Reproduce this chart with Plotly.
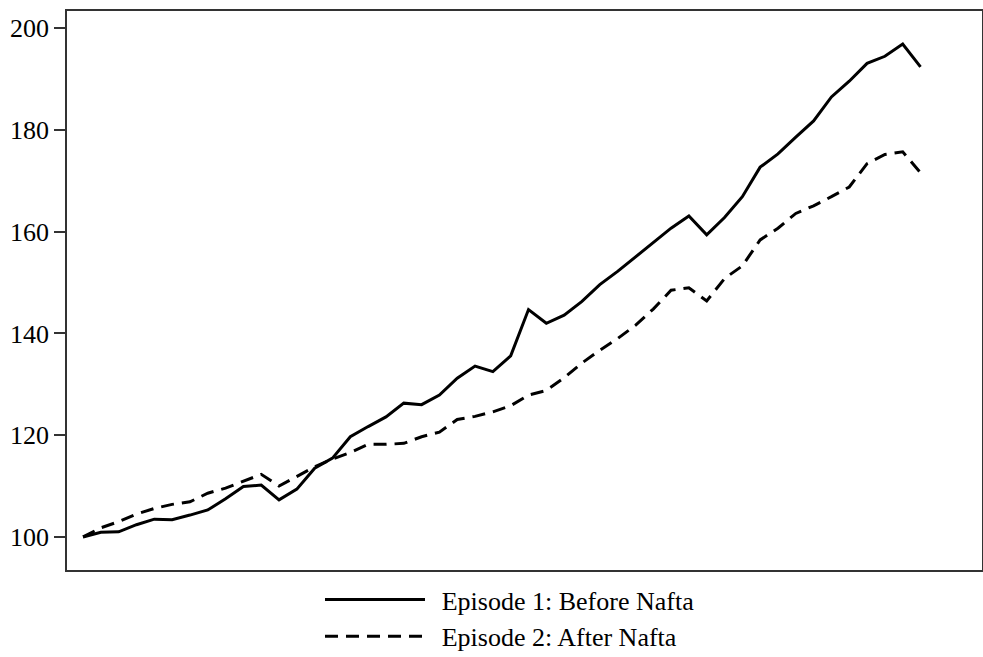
import plotly.graph_objects as go

quarters = list(range(48))
before_nafta = [100.0, 100.9, 101.0, 102.4, 103.5, 103.4, 104.3, 105.3, 107.5, 109.9,
                110.2, 107.3, 109.4, 113.5, 115.5, 119.7, 121.7, 123.6, 126.3, 126.0,
                127.9, 131.2, 133.6, 132.5, 135.6, 144.7, 142.0, 143.6, 146.3, 149.6,
                152.2, 155.0, 157.8, 160.7, 163.1, 159.4, 162.8, 166.9, 172.7, 175.3,
                178.6, 181.8, 186.5, 189.6, 193.1, 194.5, 196.9, 192.4]
after_nafta = [100.0, 101.8, 103.0, 104.5, 105.6, 106.4, 106.9, 108.6, 109.6, 111.0,
               112.3, 110.0, 111.9, 113.8, 115.3, 116.6, 118.2, 118.2, 118.4, 119.7,
               120.6, 123.1, 123.7, 124.6, 125.8, 127.9, 128.8, 131.3, 134.2, 136.7,
               139.0, 141.6, 144.8, 148.5, 149.0, 146.4, 150.8, 153.3, 158.4, 160.7,
               163.6, 165.1, 166.9, 168.8, 173.4, 175.2, 175.7, 171.6]
y_ticks = [100, 120, 140, 160, 180, 200]
series_names = ["Episode 1: Before Nafta", "Episode 2: After Nafta"]

font = dict(family="Liberation Serif, Times New Roman, serif", size=26, color="black")
pad = "\u00a0\u2009"

fig = go.Figure()
fig.add_trace(go.Scatter(x=quarters, y=before_nafta, mode="lines",
                         name=pad + series_names[0],
                         line=dict(color="black", width=3)))
fig.add_trace(go.Scatter(x=quarters, y=after_nafta, mode="lines",
                         name=pad + series_names[1],
                         line=dict(color="black", width=3, dash="13px,8px")))

fig.update_layout(
    width=983, height=657,
    margin=dict(l=67, r=1, t=11, b=87, autoexpand=False),
    paper_bgcolor="white", plot_bgcolor="white",
    font=font,
    showlegend=True,
    legend=dict(x=0.2765, y=0.1233, xref="paper", yref="container",
                xanchor="left", yanchor="top",
                font=font, itemwidth=100, tracegroupgap=0,
                bgcolor="rgba(0,0,0,0)"),
    xaxis=dict(range=[-0.9, 50.45], showticklabels=False, ticks="",
               showgrid=False, zeroline=False, showline=True,
               linecolor="#333", linewidth=1.5, mirror=True),
    yaxis=dict(range=[93.5, 203.4], tickvals=y_ticks, ticks="outside",
               ticklen=11, tickwidth=1.5, tickcolor="#333",
               showgrid=False, zeroline=False, showline=True,
               linecolor="#333", linewidth=1.5, mirror=True,
               tickfont=font, automargin=False),
)

fig.write_html("out.html", config={"displayModeBar": False},
               post_script="document.body.style.margin='0';document.body.style.overflow='hidden';")
